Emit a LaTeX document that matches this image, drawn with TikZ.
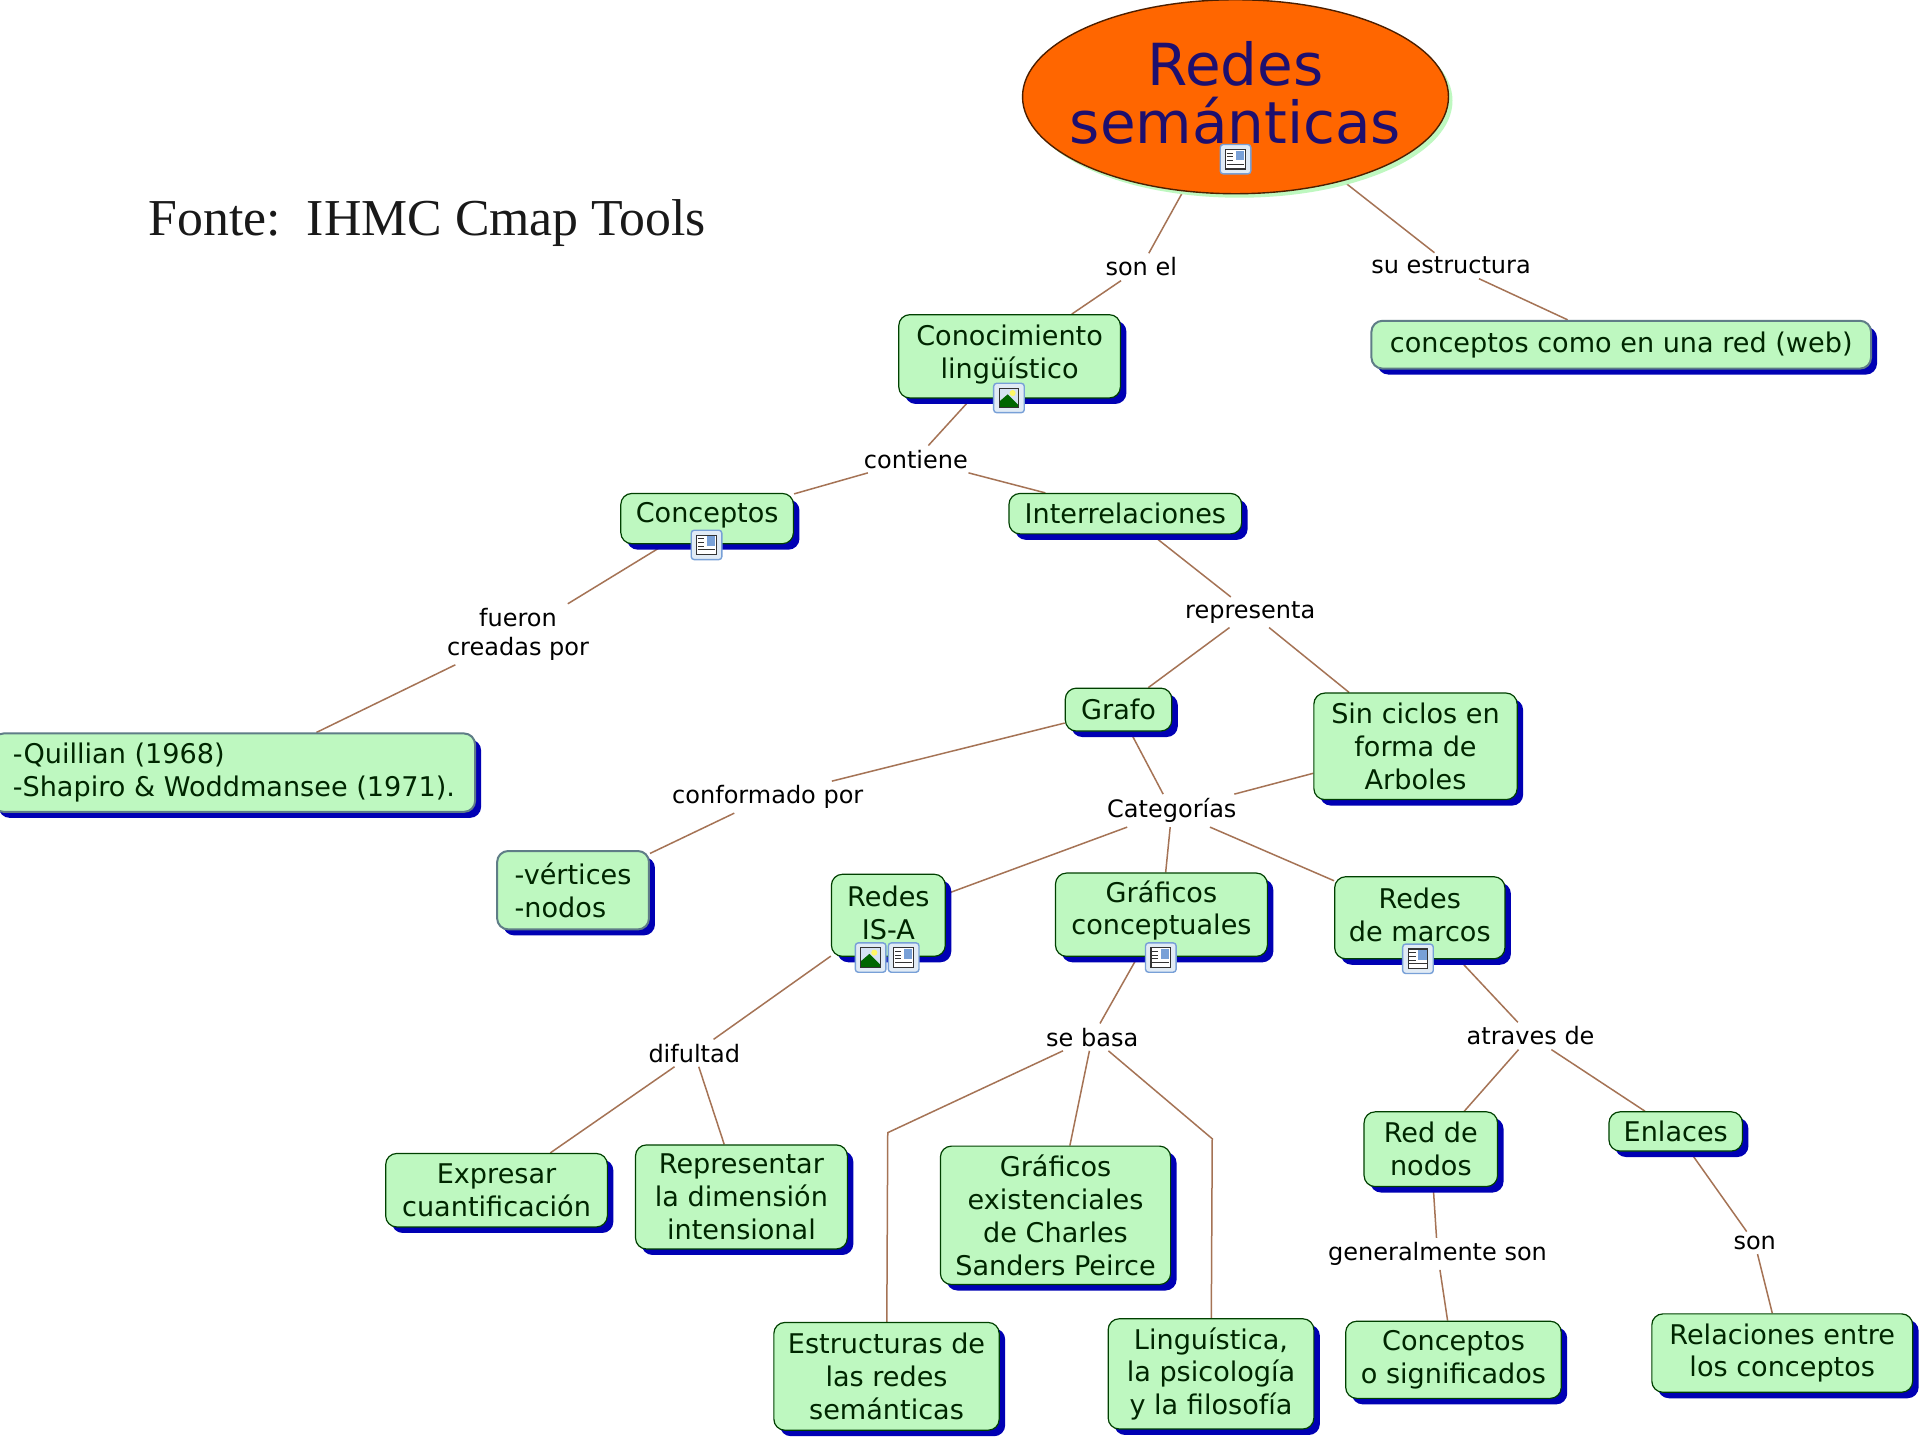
\documentclass[tikz,border=0pt]{standalone}
\usepackage{fontspec}
\setmainfont{DejaVu Sans}
\newfontfamily\fontefont{Liberation Serif}
\usetikzlibrary{shapes.geometric,shadows,backgrounds}
\definecolor{boxgreen}{RGB}{190,248,192}
\definecolor{boxblue}{RGB}{0,0,180}
\definecolor{linkbrown}{RGB}{165,115,85}
\definecolor{rootorange}{RGB}{255,102,0}
\definecolor{roottext}{RGB}{30,15,110}
\definecolor{greyedge}{RGB}{95,125,135}
\definecolor{iconblue}{RGB}{120,160,215}
\definecolor{iconfill}{RGB}{225,235,245}
\def\ux{0.6123pt}
\newcommand\lift[1]{\rule[-#1pt]{0pt}{#1pt}}
\tikzset{
  x=0.6123pt,y=-0.6123pt,
  conceptbox/.style={rectangle,rounded corners=5.5pt,draw=black!75!green,line width=0.6pt,fill=boxgreen,
    inner sep=0pt,align=center,text=black!85!green,font=\fontsize{13.55}{16.4}\selectfont,
    copy shadow={shadow xshift=3pt,shadow yshift=-3pt,fill=boxblue,draw=none}},
  softbox/.style={conceptbox,draw=greyedge,line width=1pt},
  linklabel/.style={inner sep=2pt,align=center,text=black,font=\fontsize{12}{14.5}\selectfont},
  conn/.style={draw=linkbrown,line width=0.75pt},
  rootnode/.style={ellipse,draw=black!70!rootorange,line width=0.7pt,fill=rootorange,inner sep=0pt,
    minimum width=213pt,minimum height=97pt,
    copy shadow={shadow xshift=2pt,shadow yshift=-2pt,fill=boxgreen,draw=none}},
  roottitle/.style={inner sep=0pt,text=roottext,align=center,font=\fontsize{29}{29}\selectfont},
  iconframe/.style={draw=iconblue,line width=0.7pt,fill=iconfill,rounded corners=1.5pt},
  docicon/.pic={
    \draw[iconframe] (-12.5,-12) rectangle (12.5,12);
    \fill[white] (-8,-8) rectangle (8,8);
    \draw[black!80,line width=0.6pt] (-8,-8) rectangle (8,8);
    \fill[iconblue] (0,-7) rectangle (7,1);
    \draw[black!80,line width=0.5pt] (-7,-5)--(-2,-5) (-7,-2)--(-2,-2) (-7,1)--(-2,1) (-7,4)--(7,4);
  },
  imgicon/.pic={
    \draw[iconframe] (-12.5,-12) rectangle (12.5,12);
    \fill[white!70!iconblue] (-8,-8) rectangle (8,8);
    \fill[yellow!60!white] (3,-4) circle (2.5);
    \fill[green!40!black] (-8,8) -- (-8,3) -- (-1,-3) -- (8,6) -- (8,8) -- cycle;
    \draw[black!80,line width=0.6pt] (-8,-8) rectangle (8,8);
  },
}
\newcommand\cnode[7][conceptbox]{%
  \node[#1,minimum width={(#5-#3)*\ux},minimum height={(#6-#4)*\ux}] (#2) at ({(#3+#5)/2},{(#4+#6)/2}) {#7};}
\begin{document}
\begin{tikzpicture}
\useasboundingbox (0,0) rectangle (1568,1176);
\node[anchor=west,inner sep=0pt,font=\fontefont\fontsize{25.9}{30}\selectfont,text=black!90] (fonte) at (121,182) {Fonte:\ \ IHMC Cmap Tools};

\node[rootnode] (root) at (1009,79) {};
\node[roottitle] (title) at (1009,76) {Redes\\semánticas};
\cnode{conoc}{734}{257}{915}{325}{Conocimiento\\lingüístico\lift{5}}
\cnode[softbox]{web}{1120}{262}{1528}{301}{\raisebox{-1pt}{conceptos como en una red (web)}}
\cnode{conceptos}{507}{403}{648}{444}{Conceptos\lift{6}}
\cnode{interrel}{824}{403}{1014}{436}{Interrelaciones}
\cnode[softbox,align=left]{quillian}{-6}{599}{388}{663}{-Quillian (1968)\\-Shapiro \& Woddmansee (1971).}
\cnode{grafo}{870}{562}{957}{597}{Grafo}
\cnode{sinciclos}{1073}{566}{1239}{653}{Sin ciclos en\\forma de\\Arboles}
\cnode[softbox,align=left]{vertices}{406}{695}{530}{759}{-vértices\\-nodos}
\cnode{isa}{679}{714}{772}{781}{Redes\\IS-A\lift{3}}
\cnode{graficos}{862}{713}{1035}{781}{Gráficos\\conceptuales\lift{7}}
\cnode{marcos}{1090}{716}{1229}{783}{Redes\\de marcos\lift{3}}
\cnode{expresar}{315}{942}{496}{1002}{Expresar\\cuantificación}
\cnode{representar}{519}{935}{692}{1020}{Representar\\la dimensión\\intensional}
\cnode{exist}{768}{936}{956}{1049}{Gráficos\\existenciales\\de Charles\\Sanders Peirce}
\cnode{estruct}{632}{1080}{816}{1168}{Estructuras de\\las redes\\semánticas}
\cnode{linguis}{905}{1077}{1073}{1167}{Linguística,\\la psicología\\y la filosofía}
\cnode{rednodos}{1114}{908}{1223}{969}{Red de\\nodos}
\cnode{signif}{1099}{1079}{1275}{1142}{Conceptos\\o significados}
\cnode{enlaces}{1314}{908}{1423}{940}{Enlaces}
\cnode{relac}{1349}{1073}{1562}{1137}{Relaciones entre\\los conceptos}

\node[linklabel] (sonel) at (932,218) {son el};
\node[linklabel] (suest) at (1185,217) {su estructura};
\node[linklabel] (contiene) at (748,375) {contiene};
\node[linklabel] (fueron) at (423,518) {fueron\\creadas por};
\node[linklabel] (representa) at (1021,500) {representa};
\node[linklabel] (conformado) at (627,651) {conformado por};
\node[linklabel] (categorias) at (957,662) {Categorías};
\node[linklabel] (difultad) at (567,860) {difultad};
\node[linklabel] (sebasa) at (892,847) {se basa};
\node[linklabel] (atraves) at (1250,846) {atraves de};
\node[linklabel] (generalmente) at (1174,1024) {generalmente son};
\node[linklabel] (sonlink) at (1433,1015) {son};

\coordinate (bendA) at (725,925);
\coordinate (bendB) at (990,930);

\begin{scope}[on background layer]
\fill[white] (0,0) rectangle (1568,1176);
\begin{scope}[conn]
\draw (root) -- (sonel);
\draw (sonel) -- (conoc);
\draw (root) -- (suest);
\draw (suest) -- (web);
\draw (conoc) -- (contiene);
\draw (contiene) -- (conceptos);
\draw (contiene) -- (interrel);
\draw (conceptos) -- (fueron);
\draw (fueron) -- (quillian);
\draw (interrel) -- (representa);
\draw (representa) -- (grafo);
\draw (representa) -- (sinciclos);
\draw (grafo) -- (conformado);
\draw (conformado) -- (vertices);
\draw (grafo) -- (categorias);
\draw (sinciclos) -- (categorias);
\draw (categorias) -- (isa);
\draw (categorias) -- (graficos);
\draw (categorias) -- (marcos);
\draw (isa) -- (difultad);
\draw (difultad) -- (expresar);
\draw (difultad) -- (representar);
\draw (graficos) -- (sebasa);
\draw (sebasa) -- (exist);
\draw (sebasa) -- (bendA) -- (estruct);
\draw (sebasa) -- (bendB) -- (linguis);
\draw (marcos) -- (atraves);
\draw (atraves) -- (rednodos);
\draw (atraves) -- (enlaces);
\draw (rednodos) -- (generalmente);
\draw (generalmente) -- (signif);
\draw (enlaces) -- (sonlink);
\draw (sonlink) -- (relac);
\end{scope}
\end{scope}

\pic at (1009,130) {docicon};
\pic at (824,325) {imgicon};
\pic at (577,445) {docicon};
\pic at (711,782) {imgicon};
\pic at (738,782) {docicon};
\pic at (948,782) {docicon};
\pic at (1158,783) {docicon};
\end{tikzpicture}
\end{document}
